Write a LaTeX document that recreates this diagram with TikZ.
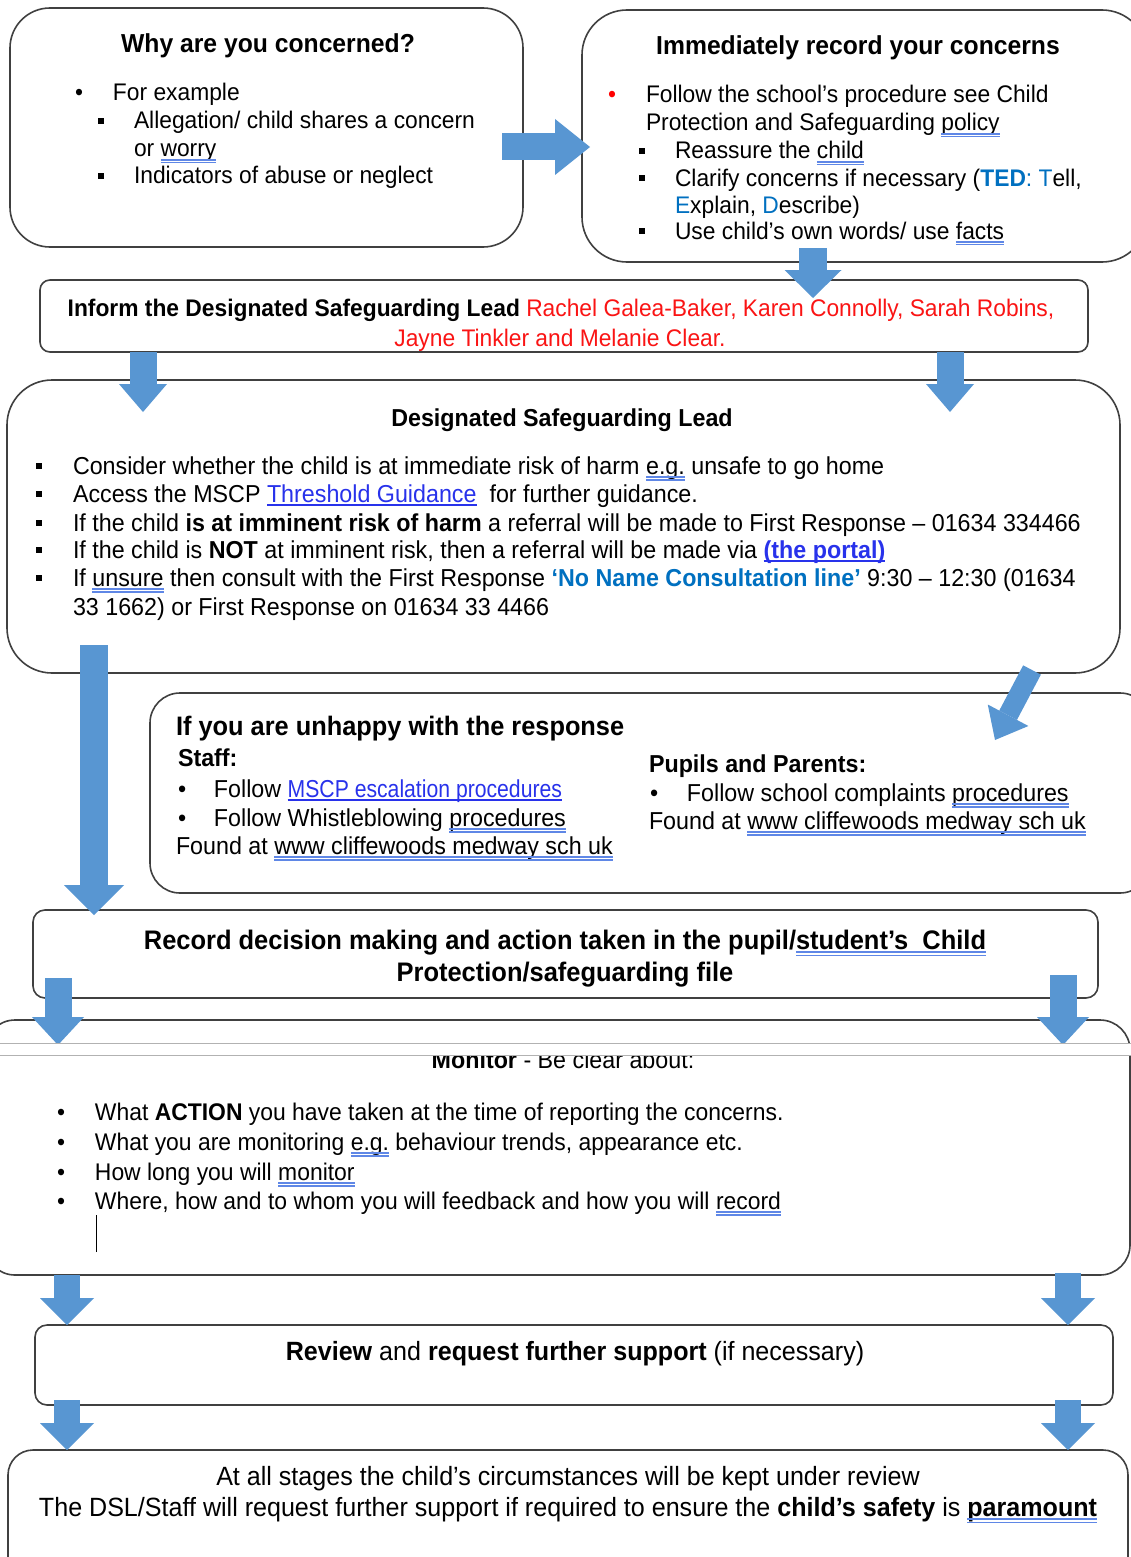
\documentclass[tikz,border=0pt]{standalone}
\usepackage{fontspec}
\usepackage{graphicx}
\setmainfont{Liberation Sans}[FakeStretch=0.95]
\usetikzlibrary{arrows.meta,calc}
\definecolor{arrowblue}{RGB}{88,150,210}
\definecolor{edgegray}{RGB}{64,64,64}
\definecolor{sqblue}{RGB}{95,135,230}
\definecolor{linkblue}{RGB}{40,50,235}
\definecolor{tedblue}{RGB}{0,112,192}
\definecolor{namered}{RGB}{250,20,20}
\newcommand\bodyfont{\fontsize{24.5}{28.5}\selectfont}
\newcommand\smallbody{\fontsize{24}{28}\selectfont}
\newcommand\bigbody{\fontsize{26.4}{30}\selectfont}
\newcommand\ttlfont{\fontsize{26}{30}\selectfont\bfseries}
\newsavebox\ulbox
\newcommand\sq[1]{\sbox\ulbox{#1}\rlap{\usebox\ulbox}\textcolor{sqblue}{\rlap{\rule[-0.15em]{\wd\ulbox}{0.06em}}\rule[-0.27em]{\wd\ulbox}{0.06em}}}
\newcommand\lnktxt[1]{\sbox\ulbox{\color{linkblue}#1}\rlap{\usebox\ulbox}\textcolor{linkblue}{\rule[-0.17em]{\wd\ulbox}{0.07em}}}
\newcommand\bmark[2]{\makebox[#1][l]{#2}}
\newcommand\sqb{\rule[0.22em]{0.24em}{0.24em}}
\tikzset{
  boxA/.style={draw=edgegray, line width=1.6pt, rounded corners=#1, fill=white,
    inner sep=0pt, outer sep=0pt, anchor=north west},
  txt/.style={inner sep=0pt, outer sep=0pt, font=\bodyfont, anchor=base west},
  ctxt/.style={inner sep=0pt, outer sep=0pt, font=\bodyfont, anchor=base},
  ttl/.style={inner sep=0pt, outer sep=0pt, font=\ttlfont, anchor=base},
  blk/.style n args={3}{draw=arrowblue, line width=#1,
    -{Triangle[width=#2,length=#3,line width=0pt]}},
}
\begin{document}
\begin{tikzpicture}[x=1pt,y=-1pt]
\useasboundingbox (0,0) rectangle (1131,1557);
\clip (0,0) rectangle (1131,1557);
\fill[white] (0,0) rectangle (1131,1557);

% ---------- boxes ----------
\node[boxA=40pt, minimum width=513pt, minimum height=239pt] (b1) at (10,8) {};
\node[boxA=45pt, minimum width=565pt, minimum height=252pt] (b2) at (582,10) {};
\node[boxA=10pt, minimum width=1048pt, minimum height=72pt] (b3) at (40,280) {};
\node[boxA=45pt, minimum width=1113pt, minimum height=293pt] (b4) at (7,380) {};
\node[boxA=30pt, minimum width=1000pt, minimum height=200pt] (b5) at (150,693) {};
\node[boxA=12pt, minimum width=1065pt, minimum height=88pt] (b6) at (33,910) {};
\node[boxA=30pt, minimum width=1145pt, minimum height=255pt] (b7) at (-15,1020) {};
\node[boxA=12pt, minimum width=1078pt, minimum height=80pt] (b8) at (35,1325) {};
\node[boxA=25pt, minimum width=1120pt, minimum height=140pt] (b9) at (8,1450) {};

% ---------- box 1 ----------
\node[ttl] (t1) at (268,53) {Why are you concerned?};
\node[txt, font=\smallbody] (t1a) at (75,101) {\bmark{38pt}{\textbullet}For example};
\node[txt, font=\smallbody] (t1b) at (98,129) {\bmark{36pt}{\sqb}Allegation/ child shares a concern};
\node[txt, font=\smallbody] (t1c) at (134,157) {or \sq{worry}};
\node[txt, font=\smallbody] (t1d) at (98,184) {\bmark{36pt}{\sqb}Indicators of abuse or neglect};

% ---------- box 2 ----------
\node[ttl] (t2) at (858,55) {Immediately record your concerns};
\node[txt, font=\smallbody] (t2a) at (608,103) {\bmark{38pt}{\textcolor{red}{\textbullet}}Follow the school’s procedure see Child};
\node[txt, font=\smallbody] (t2b) at (646,131) {Protection and Safeguarding \sq{policy}};
\node[txt, font=\smallbody] (t2c) at (639,159) {\bmark{36pt}{\sqb}Reassure the \sq{child}};
\node[txt, font=\smallbody] (t2d) at (639,186) {\bmark{36pt}{\sqb}Clarify concerns if necessary (\textcolor{tedblue}{\textbf{TED}: T}ell,};
\node[txt, font=\smallbody] (t2e) at (675,213) {\textcolor{tedblue}{E}xplain, \textcolor{tedblue}{D}escribe)};
\node[txt, font=\smallbody] (t2f) at (639,239) {\bmark{36pt}{\sqb}Use child’s own words/ use \sq{facts}};

% ---------- box 3 ----------
\node[ctxt, font=\smallbody] (t3a) at (561,316) {\textbf{Inform the Designated Safeguarding Lead} \textcolor{namered}{Rachel Galea-Baker, Karen Connolly, Sarah Robins,}};
\node[ctxt, font=\smallbody] (t3b) at (560,346) {\textcolor{namered}{Jayne Tinkler and Melanie Clear.}};

% ---------- box 4 ----------
\node[ctxt] (t4) at (562,426) {\textbf{Designated Safeguarding Lead}};
\node[txt] (t4a) at (36,474) {\bmark{37pt}{\sqb}Consider whether the child is at immediate risk of harm \sq{e.g.} unsafe to go home};
\node[txt] (t4b) at (36,502) {\bmark{37pt}{\sqb}Access the MSCP \lnktxt{Threshold Guidance}\ \ for further guidance.};
\node[txt] (t4c) at (36,531) {\bmark{37pt}{\sqb}If the child \textbf{is at imminent risk of harm} a referral will be made to First Response – 01634 334466};
\node[txt] (t4d) at (36,558) {\bmark{37pt}{\sqb}If the child is \textbf{NOT} at imminent risk, then a referral will be made via \textbf{\lnktxt{(the portal)}}};
\node[txt] (t4e) at (36,586) {\bmark{37pt}{\sqb}If \sq{unsure} then consult with the First Response \textcolor{tedblue}{\textbf{‘No Name Consultation line’}} 9:30 – 12:30 (01634};
\node[txt] (t4f) at (73,615) {33 1662) or First Response on 01634 33 4466};

% ---------- box 5 ----------
\node[ttl, anchor=base west, font=\fontsize{26.7}{30}\selectfont\bfseries] (t5) at (176,735) {If you are unhappy with the response};
\node[txt] (t5a) at (178,766) {\textbf{Staff:}};
\node[txt] (t5b) at (178,797) {\bmark{36pt}{\textbullet}Follow \scalebox{0.91}[1]{\lnktxt{MSCP escalation procedures}}};
\node[txt] (t5c) at (178,826) {\bmark{36pt}{\textbullet}Follow Whistleblowing \sq{procedures}};
\node[txt] (t5d) at (176,854) {Found at \sq{www cliffewoods medway sch uk}};
\node[txt] (t5e) at (649,772) {\textbf{Pupils and Parents:}};
\node[txt] (t5f) at (650,801) {\bmark{37pt}{\textbullet}Follow school complaints \sq{procedures}};
\node[txt] (t5g) at (649,829) {Found at \sq{www cliffewoods medway sch uk}};

% ---------- box 6 ----------
\node[ttl, font=\fontsize{26.8}{30}\selectfont\bfseries] (t6a) at (565,949) {Record decision making and action taken in the pupil/\sq{student’s\ \ Child}};
\node[ttl, font=\fontsize{26.8}{30}\selectfont\bfseries] (t6b) at (565,981) {Protection/safeguarding file};

% ---------- arrows ----------
\draw[blk={27pt}{56pt}{35pt}] ($(b1.north east)+(-21,139)$) -- ($(b2.north west)+(8,137)$);
\draw[blk={28pt}{57pt}{28pt}] ($(b2.south west)+(231,-14)$) -- ($(b3.north west)+(773,18)$);
\draw[blk={27pt}{48pt}{28pt}] ($(b3.south west)+(103,0)$) -- ($(b4.north west)+(136,32)$);
\draw[blk={27pt}{48pt}{28pt}] ($(b3.south west)+(910,0)$) -- ($(b4.north west)+(943,32)$);
\draw[blk={28pt}{60pt}{30pt}] ($(b4.south west)+(87,-28)$) -- ($(b6.north west)+(61,5)$);
\draw[blk={20pt}{46pt}{28pt}] ($(b4.south east)+(-88,-3)$) -- ($(b5.north west)+(845,47)$);
\draw[blk={27pt}{52pt}{28pt}] ($(b6.south west)+(25,-20)$) -- ($(b7.north west)+(73,25)$);
\draw[blk={27pt}{52pt}{28pt}] ($(b6.south east)+(-35,-23)$) -- ($(b7.north west)+(1078,25)$);
\draw[blk={26pt}{54pt}{27pt}] ($(b7.south west)+(82,0)$) -- ($(b8.north west)+(32,0)$);
\draw[blk={26pt}{54pt}{27pt}] ($(b7.south west)+(1083,-2)$) -- ($(b8.north west)+(1033,0)$);
\draw[blk={26pt}{54pt}{27pt}] ($(b8.south west)+(32,-5)$) -- ($(b9.north west)+(59,0)$);
\draw[blk={26pt}{54pt}{27pt}] ($(b8.south west)+(1033,-5)$) -- ($(b9.north west)+(1060,0)$);

% ---------- box 7 (monitor) ----------
\node[ctxt] (t7) at (563,1068) {\textbf{Monitor} - Be clear about:};
\fill[white] (0,1043) rectangle (1131,1055);
\draw[black!30, line width=1pt] (0,1043) -- (1131,1043);
\draw[black!30, line width=1pt] (0,1055) -- (1131,1055);
\node[txt, font=\fontsize{24.1}{28}\selectfont] (t7a) at (57,1120) {\bmark{38pt}{\textbullet}What \textbf{ACTION} you have taken at the time of reporting the concerns.};
\node[txt, font=\fontsize{24.1}{28}\selectfont] (t7b) at (57,1150) {\bmark{38pt}{\textbullet}What you are monitoring \sq{e.g.} behaviour trends, appearance etc.};
\node[txt, font=\fontsize{24.1}{28}\selectfont] (t7c) at (57,1180) {\bmark{38pt}{\textbullet}How long you will \sq{monitor}};
\node[txt, font=\fontsize{24.1}{28}\selectfont] (t7d) at (57,1209) {\bmark{38pt}{\textbullet}Where, how and to whom you will feedback and how you will \sq{record}};
\draw[line width=1pt] ($(b7.south west)+(111,-23)$) -- ++(0,-37);

% ---------- box 8 ----------
\node[ctxt, font=\bigbody] (t8) at (575,1360) {\textbf{Review} and \textbf{request further support} (if necessary)};

% ---------- box 9 ----------
\node[ctxt, font=\bigbody] (t9a) at (568,1485) {At all stages the child’s circumstances will be kept under review};
\node[ctxt, font=\bigbody] (t9b) at (568,1516) {The DSL/Staff will request further support if required to ensure the \textbf{child’s safety} is \textbf{\sq{paramount}}};
\end{tikzpicture}
\end{document}
